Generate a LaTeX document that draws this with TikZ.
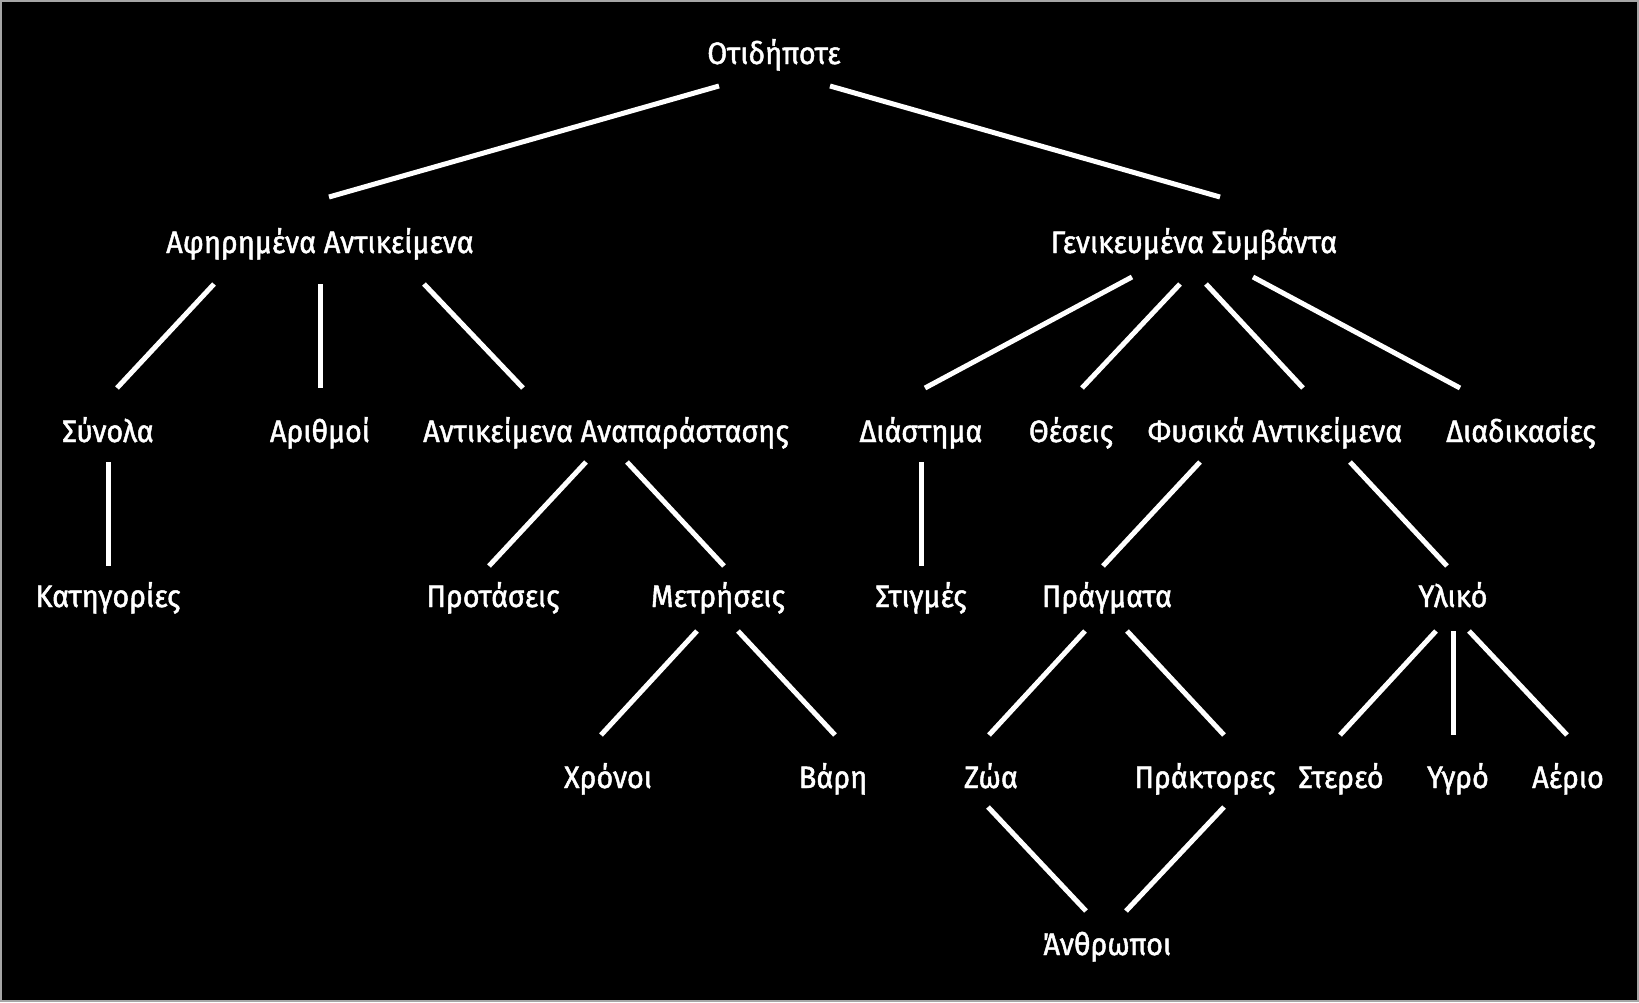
\documentclass[tikz,border=0pt]{standalone}
\usepackage{fontspec}
\setmainfont[FakeStretch=0.93,FakeBold=1.5]{Fira Sans}
\usetikzlibrary{calc}
\begin{document}
\begin{tikzpicture}[x=0.5pt,y=-0.5pt,
  lbl/.style={text=white,font=\fontsize{15.5pt}{18pt}\selectfont,anchor=base,inner sep=0pt},
  edge/.style={draw=white,line width=2.5pt}]
\fill[black] (0,0) rectangle (1639,1002);
\draw[gray!70,line width=1pt] (1,1) rectangle (1638,1001);
% nodes
\node[lbl] (R) at (774,64) {Οτιδήποτε};
\node[lbl] (A) at (320,253) {Αφηρημένα Αντικείμενα};
\node[lbl] (G) at (1194,253) {Γενικευμένα Συμβάντα};
\node[lbl] (S) at (108,442) {Σύνολα};
\node[lbl] (N) at (320,442) {Αριθμοί};
\node[lbl] (AA) at (606,442) {Αντικείμενα Αναπαράστασης};
\node[lbl] (D) at (921,442) {Διάστημα};
\node[lbl] (T) at (1071,442) {Θέσεις};
\node[lbl] (F) at (1275,442) {Φυσικά Αντικείμενα};
\node[lbl] (P) at (1521,442) {Διαδικασίες};
\node[lbl] (K) at (108,607) {Κατηγορίες};
\node[lbl] (Pr) at (493,607) {Προτάσεις};
\node[lbl] (M) at (718,607) {Μετρήσεις};
\node[lbl] (St) at (921,607) {Στιγμές};
\node[lbl] (Pg) at (1107,607) {Πράγματα};
\node[lbl] (Y) at (1453,607) {Υλικό};
\node[lbl] (X) at (608,788) {Χρόνοι};
\node[lbl] (B) at (833,788) {Βάρη};
\node[lbl] (Z) at (991,788) {Ζώα};
\node[lbl] (Pk) at (1205,788) {Πράκτορες};
\node[lbl] (Sr) at (1341,788) {Στερεό};
\node[lbl] (Yg) at (1458,788) {Υγρό};
\node[lbl] (Ae) at (1568,788) {Αέριο};
\node[lbl] (An) at (1107,955) {Άνθρωποι};
% edges
\draw[edge] ($(R.base)+(-55,22)$) -- ($(A.base)+(9,-56)$);
\draw[edge] ($(R.base)+(56,22)$) -- ($(G.base)+(26,-56)$);
\draw[edge] ($(A.base)+(-106,31)$) -- ($(S.base)+(9,-54)$);
\draw[edge] ($(A.base)+(0,31)$) -- ($(N.base)+(0,-54)$);
\draw[edge] ($(A.base)+(104,31)$) -- ($(AA.base)+(-83,-54)$);
\draw[edge] ($(G.base)+(-62,24)$) -- ($(D.base)+(4,-54)$);
\draw[edge] ($(G.base)+(-14,31)$) -- ($(T.base)+(11,-54)$);
\draw[edge] ($(G.base)+(12,31)$) -- ($(F.base)+(28,-54)$);
\draw[edge] ($(G.base)+(59,24)$) -- ($(P.base)+(-61,-54)$);
\draw[edge] ($(S.base)+(0,20)$) -- ($(K.base)+(0,-41)$);
\draw[edge] ($(AA.base)+(-20,20)$) -- ($(Pr.base)+(-4,-41)$);
\draw[edge] ($(AA.base)+(21,20)$) -- ($(M.base)+(6,-41)$);
\draw[edge] ($(D.base)+(0,20)$) -- ($(St.base)+(0,-41)$);
\draw[edge] ($(F.base)+(-75,20)$) -- ($(Pg.base)+(-4,-41)$);
\draw[edge] ($(F.base)+(75,20)$) -- ($(Y.base)+(-6,-41)$);
\draw[edge] ($(M.base)+(-21,24)$) -- ($(X.base)+(-7,-53)$);
\draw[edge] ($(M.base)+(20,24)$) -- ($(B.base)+(2,-53)$);
\draw[edge] ($(Pg.base)+(-22,24)$) -- ($(Z.base)+(-2,-53)$);
\draw[edge] ($(Pg.base)+(20,24)$) -- ($(Pk.base)+(19,-53)$);
\draw[edge] ($(Y.base)+(-17,24)$) -- ($(Sr.base)+(-1,-53)$);
\draw[edge] ($(Y.base)+(0,24)$) -- ($(Yg.base)+(-5,-53)$);
\draw[edge] ($(Y.base)+(16,24)$) -- ($(Ae.base)+(-1,-53)$);
\draw[edge] ($(Z.base)+(-3,19)$) -- ($(An.base)+(-21,-44)$);
\draw[edge] ($(Pk.base)+(19,19)$) -- ($(An.base)+(19,-44)$);
\end{tikzpicture}
\end{document}
